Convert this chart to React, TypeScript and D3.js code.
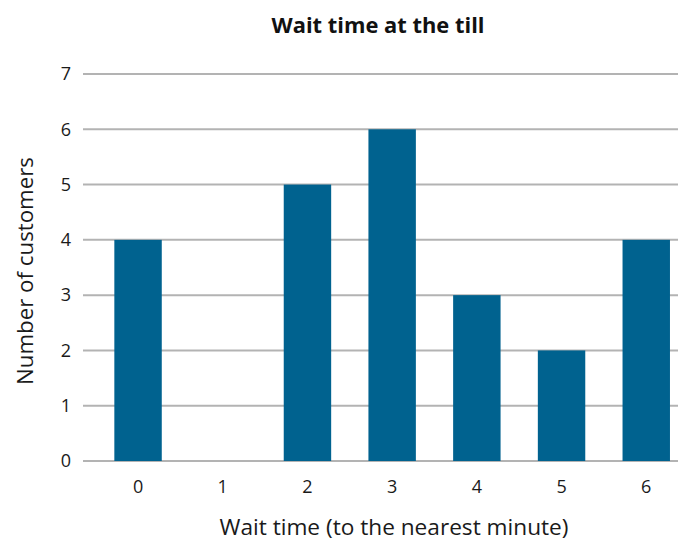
import React from "react";
import * as d3 from "d3";

const categories = ["0", "1", "2", "3", "4", "5", "6"];
const values = [4, 0, 5, 6, 3, 2, 4];
const yTicks = [0, 1, 2, 3, 4, 5, 6, 7];
const title = "Wait time at the till";
const xTitle = "Wait time (to the nearest minute)";
const yTitle = "Number of customers";

const W = 678;
const H = 541;
const FONT = "'Open Sans', sans-serif";

export default function App() {
  const x = d3
    .scaleBand<string>()
    .domain(categories)
    .range([95.7, 688.6])
    .paddingInner(0.44)
    .paddingOuter(0.22);
  const y = d3.scaleLinear().domain([0, 7]).range([461, 74]);
  const gridLeft = 83;
  const gridRight = 678;

  return (
    <svg
      width={W}
      height={H}
      style={{ position: "absolute", left: 0, top: 0, background: "#fff" }}
    >
      <text
        x={378}
        y={33}
        textAnchor="middle"
        fontFamily={FONT}
        fontWeight="bold"
        fontSize={21}
        textLength={213}
        lengthAdjust="spacingAndGlyphs"
        fill="#111"
      >
        {title}
      </text>
      {yTicks.map((t) => (
        <g key={t}>
          <line
            x1={gridLeft}
            x2={gridRight}
            y1={y(t)}
            y2={y(t)}
            stroke="#b3b3b3"
            strokeWidth={2}
          />
          <text
            x={71}
            y={y(t)}
            dy="0.35em"
            textAnchor="end"
            fontFamily={FONT}
            fontSize={18}
            fill="#1a1a1a"
          >
            {t}
          </text>
        </g>
      ))}
      {categories.map((c, i) => (
        <rect
          key={c}
          x={x(c)}
          y={y(values[i])}
          width={x.bandwidth()}
          height={y(0) - y(values[i])}
          fill="#00628f"
        />
      ))}
      {categories.map((c) => (
        <text
          key={c}
          x={(x(c) ?? 0) + x.bandwidth() / 2}
          y={493}
          textAnchor="middle"
          fontFamily={FONT}
          fontSize={18}
          fill="#1a1a1a"
        >
          {c}
        </text>
      ))}
      <text
        x={394}
        y={535}
        textAnchor="middle"
        fontFamily={FONT}
        fontSize={22}
        textLength={349}
        lengthAdjust="spacingAndGlyphs"
        fill="#1a1a1a"
      >
        {xTitle}
      </text>
      <text
        transform={`translate(33, 271) rotate(-90)`}
        textAnchor="middle"
        fontFamily={FONT}
        fontSize={22}
        textLength={228}
        lengthAdjust="spacingAndGlyphs"
        fill="#1a1a1a"
      >
        {yTitle}
      </text>
    </svg>
  );
}
